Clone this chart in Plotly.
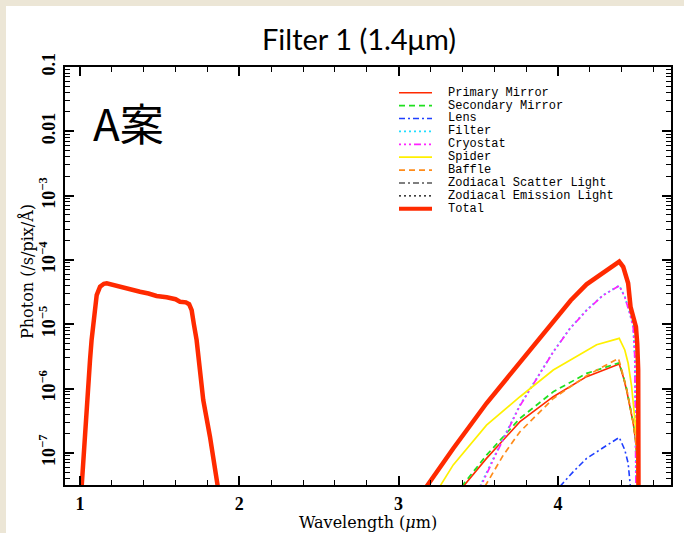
import plotly.graph_objects as go

# ---------------- data ----------------
# Total (thick red): short-wavelength band, gap, thermal band
total_x = [1.000, 1.015, 1.031, 1.042, 1.052, 1.063, 1.073, 1.084, 1.094, 1.105, 1.126, 1.150, 1.168,
           1.210, 1.250, 1.293, 1.340, 1.377, 1.430, 1.481, 1.544, 1.600, 1.628, 1.665, 1.685, 1.701,
           1.715, 1.732, 1.774, 1.816, 1.870,
           None,
           3.176, 3.343, 3.552, 3.762, 3.971, 4.080, 4.180, 4.300, 4.385, 4.410, 4.441, 4.456, 4.473, 4.490,
           4.498, 4.504, 4.506]
total_y = [1.2e-8, 4.5e-8, 1.6e-7, 6.6e-7, 1.74e-6, 2.77e-6, 5.7e-6, 1.16e-5, 1.87e-5, 2.84e-5, 3.83e-5,
           4.25e-5, 4.32e-5, 4.05e-5, 3.75e-5, 3.52e-5, 3.35e-5, 3.2e-5, 3.0e-5, 2.75e-5, 2.62e-5, 2.45e-5,
           2.24e-5, 2.19e-5, 2.05e-5, 1.66e-5, 1.0e-5, 5.7e-6, 6.6e-7, 1.78e-7, 2.5e-8,
           None,
           3.0e-8, 1.17e-7, 5.9e-7, 2.61e-6, 1.12e-5, 2.34e-5, 4.17e-5, 6.9e-5, 9.4e-5, 7.8e-5, 4.33e-5, 1.87e-5,
           1.28e-5, 9.1e-6, 5.0e-6, 1.95e-6, 2.5e-8]

primary_x = [3.406, 3.552, 3.762, 3.971, 4.180, 4.385, 4.410, 4.431, 4.452, 4.473, 4.490, 4.498, 4.502]
primary_y = [3.0e-8, 8.2e-8, 3.05e-7, 7.46e-7, 1.53e-6, 2.40e-6, 1.53e-6, 9.5e-7, 5.25e-7, 2.88e-7,
             1.41e-7, 6.9e-8, 2.5e-8]

secondary_x = [3.395, 3.552, 3.762, 3.971, 4.180, 4.385, 4.410, 4.431, 4.452, 4.473, 4.490, 4.498, 4.502]
secondary_y = [3.0e-8, 9.2e-8, 3.44e-7, 8.9e-7, 1.72e-6, 2.51e-6, 1.58e-6, 1.0e-6, 5.4e-7, 2.95e-7,
               1.45e-7, 7.1e-8, 2.5e-8]

lens_x = [4.013, 4.100, 4.180, 4.300, 4.385, 4.420, 4.441, 4.456]
lens_y = [3.0e-8, 5.2e-8, 8.2e-8, 1.29e-7, 1.74e-7, 1.11e-7, 6.9e-8, 2.8e-8]

filter_x = [3.511, 3.615, 3.762, 3.866, 3.971, 4.075, 4.180, 4.284, 4.385, 4.420, 4.452, 4.473, 4.483, 4.492]
filter_y = [3.0e-8, 1.04e-7, 5.53e-7, 1.44e-6, 3.73e-6, 8.6e-6, 1.66e-5, 2.84e-5, 3.98e-5, 2.68e-5,
            1.48e-5, 9.1e-6, 3.12e-6, 2.5e-8]

cryostat_x = [3.516, 3.615, 3.762, 3.866, 3.971, 4.075, 4.180, 4.284, 4.385, 4.420, 4.452, 4.473, 4.483, 4.490]
cryostat_y = [3.0e-8, 1.0e-7, 5.4e-7, 1.42e-6, 3.7e-6, 8.5e-6, 1.64e-5, 2.82e-5, 3.95e-5, 2.65e-5,
              1.45e-5, 8.8e-6, 3.0e-6, 2.5e-8]

spider_x = [3.259, 3.343, 3.552, 3.762, 3.971, 4.180, 4.243, 4.385, 4.420, 4.441, 4.463, 4.477, 4.490,
            4.498, 4.502]
spider_y = [3.0e-8, 6.5e-8, 2.7e-7, 7.46e-7, 1.94e-6, 3.98e-6, 4.79e-6, 6.04e-6, 3.98e-6, 2.47e-6,
            1.07e-6, 4.68e-7, 2.26e-7, 8.7e-8, 2.5e-8]

baffle_x = [3.542, 3.657, 3.762, 3.971, 4.180, 4.380, 4.410, 4.431, 4.452, 4.473, 4.490, 4.498, 4.502]
baffle_y = [3.0e-8, 9.2e-8, 2.13e-7, 7.0e-7, 1.58e-6, 2.95e-6, 1.58e-6, 1.0e-6, 5.4e-7, 2.95e-7,
            1.45e-7, 7.1e-8, 2.5e-8]

# Zodiacal components lie below the plotted range (not visible in the reference)
zodi_scatter_x = []
zodi_scatter_y = []
zodi_emission_x = []
zodi_emission_y = []

series_names = ["Primary Mirror", "Secondary Mirror", "Lens", "Filter", "Cryostat", "Spider", "Baffle",
                "Zodiacal Scatter Light", "Zodiacal Emission Light", "Total"]
ytick_vals = [1e-7, 1e-6, 1e-5, 1e-4, 1e-3, 0.01, 0.1]
ytick_text = ["10<sup>\u22127</sup>", "10<sup>\u22126</sup>", "10<sup>\u22125</sup>", "10<sup>\u22124</sup>",
              "10<sup>\u22123</sup>", "0.01", "0.1"]
xtick_vals = [1, 2, 3, 4]
xtick_text = ["1", "2", "3", "4"]

# ---------------- styles ----------------
RED = "#FF2A00"
styles = [
    dict(color=RED, width=1.6, dash="solid"),
    dict(color="#1FE01F", width=1.7, dash="6px,4px"),
    dict(color="#1F3FFF", width=1.6, dash="6px,3px,2px,3px"),
    dict(color="#22DDFF", width=1.9, dash="2px,3px"),
    dict(color="#FF22FF", width=1.7, dash="2px,3px,2px,3px,2px,3px,7px,3px"),
    dict(color="#FFF000", width=1.7, dash="solid"),
    dict(color="#FF8C1A", width=1.7, dash="6px,4px"),
    dict(color="black", width=1.2, dash="6px,3px,2px,3px"),
    dict(color="black", width=1.2, dash="2px,3px"),
    dict(color=RED, width=4.5, dash="solid"),
]
data_xy = [(primary_x, primary_y), (secondary_x, secondary_y), (lens_x, lens_y), (filter_x, filter_y),
           (cryostat_x, cryostat_y), (spider_x, spider_y), (baffle_x, baffle_y),
           (zodi_scatter_x, zodi_scatter_y), (zodi_emission_x, zodi_emission_y), (total_x, total_y)]

W, H = 684, 533
ML, MR, MT, MB = 65, 13, 67, 48
PW, PH = W - ML - MR, H - MT - MB


def px2paper_x(px):
    return (px - ML) / PW


def px2paper_y(py):
    return (H - MB - py) / PH


fig = go.Figure()
for name, (xs, ys), st in zip(series_names, data_xy, styles):
    fig.add_trace(go.Scatter(x=xs, y=ys, mode="lines", name=name, showlegend=False,
                             line=dict(color=st["color"], width=st["width"], dash=st["dash"]),
                             connectgaps=False, hoverinfo="skip"))

# minor tick positions on log axis (2..9 of each decade)
yminor = [k * 10.0 ** e for e in range(-8, -1) for k in range(2, 10)]

tickfont = dict(family="Liberation Serif", size=18, color="black")
axis_common = dict(showline=True, linecolor="black", linewidth=2, mirror="ticks", ticks="inside",
                   tickcolor="black", tickwidth=1.5, showgrid=False, zeroline=False, tickfont=tickfont)

fig.update_xaxes(range=[0.906, 4.71], tickmode="array", tickvals=xtick_vals,
                 ticktext=["<b>%s</b>" % t for t in xtick_text],
                 ticklen=9, ticklabelstandoff=1,
                 minor=dict(ticks="inside", ticklen=5, tickwidth=1.2, tickcolor="black", dtick=0.2,
                            tick0=0, showgrid=False),
                 **axis_common)
fig.update_yaxes(type="log", range=[-7.5, -1], tickmode="array", tickvals=ytick_vals,
                 ticktext=["<b>%s</b>" % t for t in ytick_text], tickangle=-90, ticklen=9,
                 ticklabelstandoff=1,
                 minor=dict(ticks="inside", ticklen=5, tickwidth=1.2, tickcolor="black",
                            tickmode="array", tickvals=yminor, showgrid=False),
                 **axis_common)

shapes = [dict(type="rect", xref="paper", yref="paper", layer="below",
               x0=px2paper_x(6), x1=px2paper_x(W + 5), y0=px2paper_y(H + 5), y1=px2paper_y(6),
               fillcolor="white", line=dict(width=0))]
annotations = []

# manual legend (compact PGPLOT-style)
leg_top, leg_step = 92.7, 12.9
for i, (name, st) in enumerate(zip(series_names, styles)):
    yy = px2paper_y(leg_top + i * leg_step)
    shapes.append(dict(type="line", xref="paper", yref="paper", x0=px2paper_x(399), x1=px2paper_x(432),
                       y0=yy, y1=yy, line=dict(color=st["color"], width=min(st["width"], 4), dash=st["dash"])))
    annotations.append(dict(xref="paper", yref="paper", x=px2paper_x(446), y=yy, xanchor="left",
                            yanchor="middle", text=name, showarrow=False,
                            font=dict(family="Liberation Mono", size=12, color="black")))

# titles
annotations += [
    dict(xref="paper", yref="paper", x=px2paper_x(359), y=px2paper_y(38), xanchor="center", yanchor="middle",
         text="Filter 1 (1.4\u03bcm)", showarrow=False,
         font=dict(family="Lato", size=29, color="black")),
    dict(xref="paper", yref="paper", x=px2paper_x(91), y=px2paper_y(122), xanchor="left", yanchor="middle",
         text="A案", showarrow=False, font=dict(family="Noto Sans CJK JP", size=44, color="black")),
    dict(xref="paper", yref="paper", x=px2paper_x(368), y=px2paper_y(522), xanchor="center", yanchor="middle",
         text="Wavelength (<i>\u03bc</i>m)", showarrow=False,
         font=dict(family="DejaVu Serif", size=16, color="black")),
    dict(xref="paper", yref="paper", x=px2paper_x(27), y=px2paper_y(272), xanchor="center", yanchor="middle",
         text="Photon (/s/pix/\u00c5)", textangle=-90, showarrow=False,
         font=dict(family="DejaVu Serif", size=16, color="black")),
]

fig.update_layout(width=W, height=H, margin=dict(l=ML, r=MR, t=MT, b=MB, pad=0),
                  paper_bgcolor="#ECE6D6", plot_bgcolor="white", showlegend=False,
                  shapes=shapes, annotations=annotations)

fig.write_html("out.html")
